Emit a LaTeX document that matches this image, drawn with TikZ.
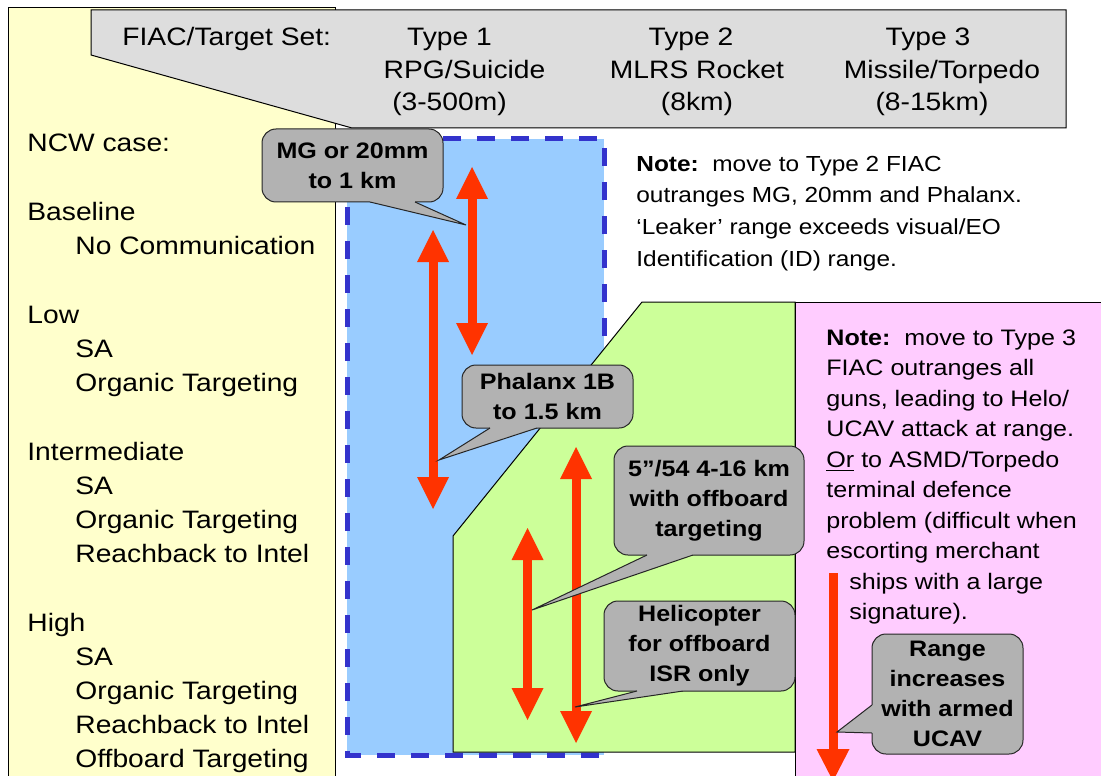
\documentclass[tikz,border=0pt]{standalone}
\usepackage{fontspec}
\setmainfont[FakeStretch=1.12]{Liberation Sans}
\usetikzlibrary{arrows.meta}
\definecolor{yel}{HTML}{FFFFCC}
\definecolor{hdr}{HTML}{DDDDDD}
\definecolor{blu}{HTML}{99CCFF}
\definecolor{dsh}{HTML}{3333CC}
\definecolor{grn}{HTML}{CCFF99}
\definecolor{pnk}{HTML}{FFCCFF}
\definecolor{cgr}{HTML}{B2B2B2}
\definecolor{arr}{HTML}{FF3300}
\begin{document}
\begin{tikzpicture}[x=0.5pt,y=-0.5pt,
  lbl/.style={anchor=base west, inner sep=0pt, font=\fontsize{12.6}{15}\selectfont},
  hd/.style={anchor=base, inner sep=0pt, font=\fontsize{12.6}{15}\selectfont},
  bnote/.style={anchor=base west, inner sep=0pt, font=\fontsize{10.9}{13}\selectfont},
  pnote/.style={anchor=base west, inner sep=0pt, font=\fontsize{11.2}{13}\selectfont},
  cbox/.style={draw=black!85, fill=cgr, rounded corners=7pt, line width=0.5pt, align=center, inner sep=0pt, font=\fontsize{11.2}{15}\selectfont\bfseries},
  cptr/.style={draw=black!85, line width=0.5pt},
  dbl/.style={draw=arr, line width=4.5pt, arrows={Triangle[width=16pt,length=16pt,line width=0pt]-Triangle[width=16pt,length=16pt,line width=0pt]}},
  sgl/.style={draw=arr, line width=4.5pt, arrows={-Triangle[width=16.5pt,length=16pt,line width=0pt]}},
  thinln/.style={draw=black, line width=0.5pt}
]
\useasboundingbox (0,0) rectangle (1101,775);
\clip (0,0) rectangle (1101,775);
\fill[white] (0,0) rectangle (1101,775);
% panels
\filldraw[fill=yel, thinln] (8,8) rectangle (335,800);
\fill[blu] (347,139) rectangle (604,755);
\draw[dsh, line width=2.5pt, dash pattern=on 9pt off 8pt] (347,139) rectangle (604,755);
\filldraw[fill=grn, thinln] (642,302) -- (795,302) -- (795,752) -- (453,752) -- (453,536) -- cycle;
\filldraw[fill=pnk, thinln] (795,302) rectangle (1120,800);
\filldraw[fill=hdr, thinln] (91,10) -- (1066,10) -- (1066,128) -- (352,128) -- (91,55) -- cycle;

% header text
\node[lbl] (fiac) at (122,46) {FIAC/Target Set:};
\node[hd] (t1a) at (449.5,46) {Type 1};
\node[hd] (t1b) at (464.5,79) {RPG/Suicide};
\node[hd] (t1c) at (449.5,111) {(3-500m)};
\node[hd] (t2a) at (691,46) {Type 2};
\node[hd] (t2b) at (697,79) {MLRS Rocket};
\node[hd] (t2c) at (697,111) {(8km)};
\node[hd] (t3a) at (928,46) {Type 3};
\node[hd] (t3b) at (942,79) {Missile/Torpedo};
\node[hd] (t3c) at (932,111) {(8-15km)};

% left panel text
\node[lbl] (l01) at (27,152) {NCW case:};
\node[lbl] (l02) at (27,220.5) {Baseline};
\node[lbl] (l03) at (75,254.5) {No Communication};
\node[lbl] (l04) at (27,323) {Low};
\node[lbl] (l05) at (75,357) {SA};
\node[lbl] (l06) at (75,391) {Organic Targeting};
\node[lbl] (l07) at (27,460) {Intermediate};
\node[lbl] (l08) at (75,494) {SA};
\node[lbl] (l09) at (75,528) {Organic Targeting};
\node[lbl] (l10) at (75,562) {Reachback to Intel};
\node[lbl] (l11) at (27,631) {High};
\node[lbl] (l12) at (75,665) {SA};
\node[lbl] (l13) at (75,699) {Organic Targeting};
\node[lbl] (l14) at (75,733) {Reachback to Intel};
\node[lbl] (l15) at (75,767) {Offboard Targeting};

% blue-zone note
\node[bnote] (n1) at (636,172) {\textbf{Note:}~~move to Type 2 FIAC};
\node[bnote] (n2) at (636,203) {outranges MG, 20mm and Phalanx.};
\node[bnote] (n3) at (636,234.5) {‘Leaker’ range exceeds visual/EO};
\node[bnote] (n4) at (636,266) {Identification (ID) range.};

% pink note
\node[pnote] (p01) at (826,345) {\textbf{Note:}~~move to Type 3};
\node[pnote] (p02) at (826,375.5) {FIAC outranges all};
\node[pnote] (p03) at (826,406) {guns, leading to Helo/};
\node[pnote] (p04) at (826,436.5) {UCAV attack at range.};
\node[pnote] (p05) at (826,467) {\underline{Or} to ASMD/Torpedo};
\node[pnote] (p06) at (826,497.5) {terminal defence};
\node[pnote] (p07) at (826,528) {problem (difficult when};
\node[pnote] (p08) at (826,558.5) {escorting merchant};
\node[pnote] (p09) at (849,589) {ships with a large};
\node[pnote] (p10) at (849,619.5) {signature).};

% arrows
\coordinate (a1t) at (472,167); \coordinate (a1b) at (472,355);
\coordinate (a2t) at (433,230); \coordinate (a2b) at (433,509);
\coordinate (a3t) at (576,447); \coordinate (a3b) at (576,743);
\coordinate (a4t) at (527.5,528); \coordinate (a4b) at (527.5,720);
\coordinate (a5t) at (833,573); \coordinate (a5b) at (833,781);
\draw[dbl] (a1t) -- (a1b);
\draw[dbl] (a2t) -- (a2b);
\draw[dbl] (a3t) -- (a3b);
\draw[dbl] (a4t) -- (a4b);
\draw[sgl] (a5t) -- (a5b);

% callouts
\node[cbox, minimum width=90.5pt, minimum height=36.5pt] (mg) at (352.5,165.5) {MG or 20mm\\to 1 km};
\coordinate (mg1) at (370,202); \coordinate (mg2) at (415,202); \coordinate (mgt) at (466,225);
\fill[cgr] (370,199) -- (mg1) -- (mgt) -- (mg2) -- (415,199) -- cycle;
\draw[cptr] (mg1) -- (mgt) -- (mg2);

\node[cbox, minimum width=85.5pt, minimum height=31.5pt] (ph) at (547.5,396.5) {Phalanx 1B\\to 1.5 km};
\coordinate (ph1) at (490,428); \coordinate (ph2) at (537,428); \coordinate (pht) at (439,460);
\fill[cgr] (490,425) -- (ph1) -- (pht) -- (ph2) -- (537,425) -- cycle;
\draw[cptr] (ph1) -- (pht) -- (ph2);

\node[cbox, minimum width=95pt, minimum height=54.5pt] (fv) at (709,500.5) {5”/54 4-16 km\\with offboard\\targeting};
\coordinate (fv1) at (647,555); \coordinate (fv2) at (693,555); \coordinate (fvt) at (532,610);
\fill[cgr] (647,552) -- (fv1) -- (fvt) -- (fv2) -- (693,552) -- cycle;
\draw[cptr] (fv1) -- (fvt) -- (fv2);

\node[cbox, minimum width=95.5pt, minimum height=45pt] (he) at (699.5,646) {Helicopter\\for offboard\\ISR only};
\coordinate (he1) at (637,691); \coordinate (he2) at (683,691); \coordinate (het) at (575,707);
\fill[cgr] (637,688) -- (he1) -- (het) -- (he2) -- (683,688) -- cycle;
\draw[cptr] (he1) -- (het) -- (he2);

\node[cbox, minimum width=75.5pt, minimum height=60pt] (rg) at (947.5,694) {Range\\increases\\with armed\\UCAV};
\coordinate (rg1) at (872,705); \coordinate (rg2) at (872,733); \coordinate (rgt) at (837,732);
\fill[cgr] (875,705) -- (rg1) -- (rgt) -- (rg2) -- (875,733) -- cycle;
\draw[cptr] (rg1) -- (rgt) -- (rg2);
\end{tikzpicture}
\end{document}
